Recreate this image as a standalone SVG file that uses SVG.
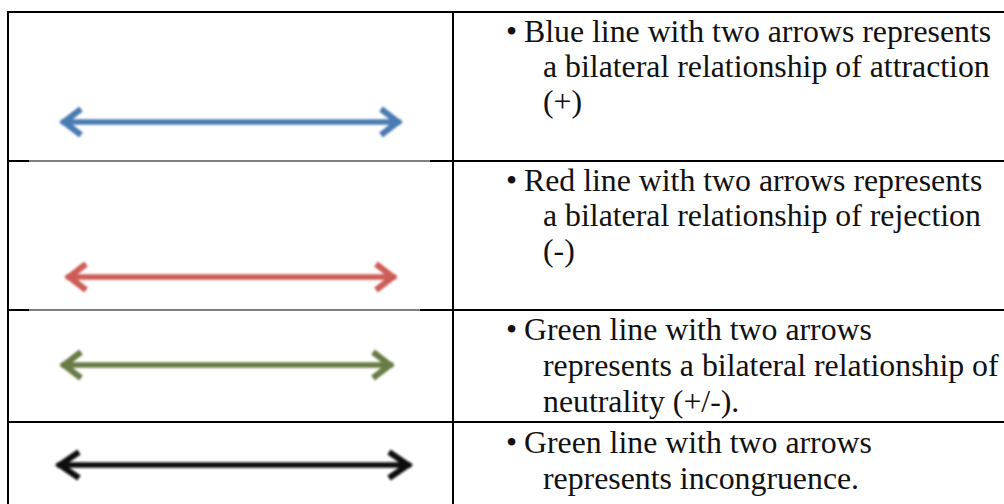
<svg xmlns="http://www.w3.org/2000/svg" width="1004" height="504" viewBox="0 0 1004 504">
  <style>
    .grid { stroke: #000; stroke-width: 2; fill: none; }
    .thin { stroke: #000; stroke-width: 1.2; fill: none; }
    .txt { font-family: 'Liberation Serif', 'Times New Roman', serif; font-size: 31.8px; fill: #111; }
    .arrow { fill: none; stroke-width: 5.5; stroke-linecap: butt; }
    .blue { stroke: #4a7bb2; }
    .red { stroke: #cc5d57; }
    .green { stroke: #697c45; }
    .black { stroke: #0d0d0d; }
  </style>
  <defs>
    <filter id="soft" x="-5%" y="-50%" width="110%" height="200%">
      <feGaussianBlur stdDeviation="1"/>
    </filter>
    <marker id="head-blue" markerUnits="userSpaceOnUse" viewBox="-26 -17 32 34" refX="0" refY="0" markerWidth="32" markerHeight="34" orient="auto-start-reverse">
      <path d="M -20 -13 L -3 0 L -20 13" fill="none" stroke="#4a7bb2" stroke-width="6"/>
    </marker>
    <marker id="head-red" markerUnits="userSpaceOnUse" viewBox="-26 -17 32 34" refX="0" refY="0" markerWidth="32" markerHeight="34" orient="auto-start-reverse">
      <path d="M -20 -13 L -3 0 L -20 13" fill="none" stroke="#cc5d57" stroke-width="6"/>
    </marker>
    <marker id="head-green" markerUnits="userSpaceOnUse" viewBox="-26 -17 32 34" refX="0" refY="0" markerWidth="32" markerHeight="34" orient="auto-start-reverse">
      <path d="M -20 -13 L -3 0 L -20 13" fill="none" stroke="#697c45" stroke-width="6"/>
    </marker>
    <marker id="head-black" markerUnits="userSpaceOnUse" viewBox="-28 -17 34 34" refX="0" refY="0" markerWidth="34" markerHeight="34" orient="auto-start-reverse">
      <path d="M -22 -13 L -3 0 L -22 13" fill="none" stroke="#0d0d0d" stroke-width="6"/>
    </marker>
  </defs>

  <rect width="1004" height="504" fill="#fff"/>

  <!-- table rules -->
  <g id="grid">
    <line class="grid" x1="7" y1="12" x2="1004" y2="12"/>
    <line class="grid" x1="8" y1="11" x2="8" y2="504"/>
    <line class="grid" x1="453" y1="11" x2="453" y2="504"/>
    <!-- row 1 / row 2 -->
    <line class="grid" x1="8" y1="161" x2="29" y2="161"/>
    <line class="thin" x1="29" y1="161" x2="430" y2="161"/>
    <line class="grid" x1="430" y1="161" x2="1004" y2="161"/>
    <!-- row 2 / row 3 -->
    <line class="grid" x1="8" y1="310" x2="29" y2="310"/>
    <line class="thin" x1="29" y1="310" x2="420" y2="310"/>
    <line class="grid" x1="420" y1="310" x2="1004" y2="310"/>
    <!-- row 3 / row 4 -->
    <line class="grid" x1="8" y1="422" x2="1004" y2="422"/>
  </g>

  <!-- double-headed sample arrows -->
  <g id="connectors" filter="url(#soft)">
    <path id="arrow-attraction" class="arrow blue" d="M 61 122 L 401 122" marker-start="url(#head-blue)" marker-end="url(#head-blue)"/>
    <path id="arrow-rejection" class="arrow red" d="M 66 277 L 396 277" marker-start="url(#head-red)" marker-end="url(#head-red)"/>
    <path id="arrow-neutrality" class="arrow green" d="M 61 365 L 393 365" marker-start="url(#head-green)" marker-end="url(#head-green)"/>
    <path id="arrow-incongruence" class="arrow black" d="M 57 465 L 411 465" marker-start="url(#head-black)" marker-end="url(#head-black)"/>
  </g>

  <!-- legend descriptions -->
  <g id="row-attraction" class="txt">
    <text x="506" y="42">•</text>
    <text x="524" y="42">Blue line with two arrows represents</text>
    <text x="543" y="77">a bilateral relationship of attraction</text>
    <text x="543" y="112">(+)</text>
  </g>
  <g id="row-rejection" class="txt">
    <text x="506" y="191">•</text>
    <text x="524" y="191">Red line with two arrows represents</text>
    <text x="543" y="226">a bilateral relationship of rejection</text>
    <text x="543" y="261">(-)</text>
  </g>
  <g id="row-neutrality" class="txt">
    <text x="506" y="340">•</text>
    <text x="524" y="340">Green line with two arrows</text>
    <text x="543" y="376">represents a bilateral relationship of</text>
    <text x="543" y="412">neutrality (+/-).</text>
  </g>
  <g id="row-incongruence" class="txt">
    <text x="506" y="453">•</text>
    <text x="524" y="453">Green line with two arrows</text>
    <text x="543" y="489">represents incongruence.</text>
  </g>
</svg>
